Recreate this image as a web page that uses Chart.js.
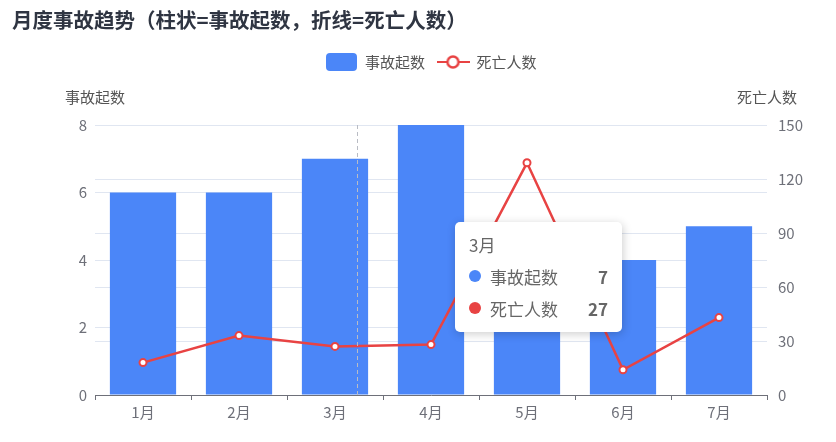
<!DOCTYPE html>
<html>
<head>
<meta charset="utf-8">
<script src="https://cdn.jsdelivr.net/npm/chart.js@4.4.1/dist/chart.umd.min.js"></script>
<style>
  html, body { margin: 0; padding: 0; background: #fff; }
  #wrap { position: relative; width: 836px; height: 442px; }
  #tip {
    position: absolute; box-sizing: border-box; width: 167px;
    padding: 12px 14px 8px 14px; background: #fff; border-radius: 5px;
    box-shadow: 1px 2px 10px rgba(0,0,0,0.2);
    font-family: "Noto Sans CJK SC", sans-serif; color: #666; pointer-events: none;
  }
  #tip .t { font-size: 17px; line-height: 22px; margin-bottom: 4px; }
  #tip .r { display: flex; align-items: center; font-size: 17px; height: 32px; }
  #tip .d { width: 12px; height: 12px; border-radius: 50%; margin-right: 9px; }
  #tip .v { margin-left: auto; font-weight: bold; }
</style>
</head>
<body>
<div id="wrap">
  <canvas id="grafico" width="836" height="442"></canvas>
  <div id="tip" style="display:none"></div>
</div>
<script>
// dados
const meses = ["1月", "2月", "3月", "4月", "5月", "6月", "7月"];
const acidentes = [6, 6, 7, 8, 5, 4, 5];
const mortes = [18, 33, 27, 28, 129, 14, 43];
const ticksEsq = [0, 2, 4, 6, 8];
const ticksDir = [0, 30, 60, 90, 120, 150];

const corBarra = "#4b86f8";
const corLinha = "#e84343";
const corEixo = "#6E7079";
const corGrade = "#E0E6F1";
const fonte = '"Noto Sans CJK SC", "Noto Sans", sans-serif';
const indiceAtivo = 2;

Chart.defaults.font.family = fonte;

// icones da legenda
function iconeBarra() {
    const c = document.createElement("canvas");
    c.width = 31; c.height = 18;
    const ctx = c.getContext("2d");
    ctx.fillStyle = corBarra;
    ctx.beginPath();
    ctx.roundRect(0, 0, 31, 18, 4);
    ctx.fill();
    return c;
}
function iconeLinha() {
    const c = document.createElement("canvas");
    c.width = 33; c.height = 16;
    const ctx = c.getContext("2d");
    ctx.strokeStyle = corLinha;
    ctx.lineWidth = 2;
    ctx.beginPath(); ctx.moveTo(0, 8); ctx.lineTo(33, 8); ctx.stroke();
    ctx.fillStyle = "#fff";
    ctx.lineWidth = 2.5;
    ctx.beginPath(); ctx.arc(16.5, 8, 5.5, 0, Math.PI * 2); ctx.fill(); ctx.stroke();
    return c;
}
const icones = [iconeBarra(), iconeLinha()];

function ponteiroX(chart) {
    const x = chart.scales.x;
    return x.getPixelForValue(indiceAtivo) + x.width / meses.length * 0.23;
}

/* -------------- NOMES DOS EIXOS + PONTEIRO ------------- */
const pluginEixos = {
    id: "nomesEixos",
    afterDatasetsDraw(chart) {
        const { ctx, chartArea } = chart;
        const px = Math.round(ponteiroX(chart)) + 0.5;
        ctx.save();
        ctx.strokeStyle = "#b9bcc4";
        ctx.lineWidth = 1;
        ctx.setLineDash([4, 3]);
        ctx.beginPath();
        ctx.moveTo(px, chartArea.top);
        ctx.lineTo(px, chartArea.bottom);
        ctx.stroke();
        ctx.restore();
    },
    afterDraw(chart) {
        const { ctx, chartArea } = chart;
        ctx.save();
        ctx.font = "15px " + fonte;
        ctx.fillStyle = "#555";
        ctx.textAlign = "center";
        ctx.textBaseline = "middle";
        ctx.fillText("事故起数", chartArea.left, chartArea.top - 28);
        ctx.fillText("死亡人数", chartArea.right, chartArea.top - 28);
        ctx.restore();
    }
};

/* -------------- TOOLTIP HTML --------------------------- */
function tooltipExterno(context) {
    const { chart, tooltip } = context;
    const tip = document.getElementById("tip");
    if (tooltip.opacity === 0) { tip.style.display = "none"; return; }
    let html = `<div class="t">${tooltip.title[0]}</div>`;
    tooltip.dataPoints.forEach(p => {
        const cor = p.dataset.type === "line" ? corLinha : corBarra;
        html += `<div class="r"><span class="d" style="background:${cor}"></span>` +
                `<span>${p.dataset.label}</span><span class="v">${p.formattedValue}</span></div>`;
    });
    tip.innerHTML = html;
    tip.style.left = (ponteiroX(chart) + 98) + "px";
    tip.style.top = (chart.chartArea.top + 97) + "px";
    tip.style.display = "block";
}

const grafico = new Chart(document.getElementById("grafico"), {
    type: "bar",
    data: {
        labels: meses,
        datasets: [
            {
                type: "line",
                label: "死亡人数",
                data: mortes,
                yAxisID: "y1",
                borderColor: corLinha,
                borderWidth: 2.5,
                backgroundColor: "#fff",
                pointBackgroundColor: "#fff",
                pointBorderColor: corLinha,
                pointBorderWidth: 2,
                pointRadius: 3.5,
                tension: 0,
                order: 0
            },
            {
                label: "事故起数",
                data: acidentes,
                yAxisID: "y",
                backgroundColor: corBarra,
                hoverBackgroundColor: corBarra,
                barPercentage: 0.69,
                categoryPercentage: 1,
                order: 1
            }
        ]
    },
    options: {
        responsive: false,
        animation: false,
        events: [],
        interaction: { mode: "index", intersect: false },
        layout: { padding: { left: 12, right: 0, top: 0, bottom: 0 } },
        plugins: {
            title: {
                display: true,
                text: "月度事故趋势（柱状=事故起数，折线=死亡人数）",
                align: "start",
                color: "#2f3542",
                font: { size: 20.5, weight: "bold", lineHeight: 1.2 },
                padding: { top: 8, bottom: 9.9 }
            },
            subtitle: {
                display: true,
                text: "",
                weight: 500,
                font: { size: 12, lineHeight: 1 },
                padding: { top: 0, bottom: 33.5 }
            },
            legend: {
                display: true,
                fullSize: false,
                labels: {
                    usePointStyle: true,
                    pointStyleWidth: 32,
                    padding: 12,
                    color: "#555",
                    font: { size: 15 },
                    generateLabels(chart) {
                        return [1, 0].map((i, k) => ({
                            text: chart.data.datasets[i].label,
                            pointStyle: icones[k],
                            datasetIndex: i,
                            fontColor: "#555",
                            lineWidth: 0,
                            hidden: false
                        }));
                    }
                }
            },
            tooltip: {
                enabled: false,
                external: tooltipExterno,
                itemSort: (a, b) => b.datasetIndex - a.datasetIndex
            }
        },
        scales: {
            x: {
                offset: true,
                grid: {
                    offset: true,
                    drawOnChartArea: false,
                    color: corEixo,
                    tickLength: 5
                },
                border: { color: corEixo, width: 1 },
                ticks: { color: corEixo, font: { size: 15 }, padding: 3 },
                afterFit(scale) { scale.height = 47; }
            },
            y: {
                position: "left",
                min: 0,
                max: ticksEsq[ticksEsq.length - 1],
                afterBuildTicks(scale) { scale.ticks = ticksEsq.map(v => ({ value: v })); },
                grid: { color: corGrade, drawTicks: false },
                border: { display: false },
                ticks: { color: corEixo, font: { size: 15 }, padding: 8 },
                afterFit(scale) { scale.width = 83; }
            },
            y1: {
                position: "right",
                min: 0,
                max: ticksDir[ticksDir.length - 1],
                afterBuildTicks(scale) { scale.ticks = ticksDir.map(v => ({ value: v })); },
                grid: { color: corGrade, drawTicks: false },
                border: { display: false },
                ticks: { color: corEixo, font: { size: 15 }, padding: 11 },
                afterFit(scale) { scale.width = 69; }
            }
        }
    },
    plugins: [pluginEixos]
});

// mostrar tooltip do mes ativo
grafico.tooltip.setActiveElements(
    [{ datasetIndex: 1, index: indiceAtivo }, { datasetIndex: 0, index: indiceAtivo }],
    { x: grafico.scales.x.getPixelForValue(indiceAtivo), y: grafico.chartArea.top + 80 }
);
grafico.update();
</script>
</body>
</html>
